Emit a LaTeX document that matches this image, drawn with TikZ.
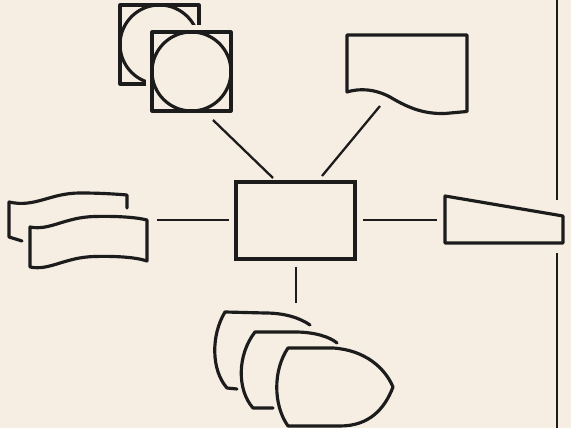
\documentclass[tikz,border=0pt]{standalone}
\definecolor{bg}{RGB}{246,237,227}
\definecolor{ink}{RGB}{28,28,28}
\begin{document}
\begin{tikzpicture}[x=0.02cm,y=-0.02cm,
  shp/.style={draw=ink, line width=1.8pt, line join=round, line cap=round},
  conn/.style={draw=ink, line width=1.3pt},
  halo/.style={fill=bg, draw=bg, line width=0.26cm}]
\fill[bg] (0,0) rectangle (571,428);
\useasboundingbox (0,0) rectangle (571,428);

% right border line
\coordinate (vt0) at (557,0);
\coordinate (vt1) at (557,200);
\coordinate (vb0) at (557,253);
\coordinate (vb1) at (557,428);
\draw[conn] (vt0) -- (vt1);
\draw[conn] (vb0) -- (vb1);

% central processing box
\node[draw=ink, line width=1.8pt, minimum width=2.38cm, minimum height=1.54cm, inner sep=0pt] (cpu) at (295.5,220.5) {};

% stacked disks (squares with circles)
\draw[shp] (120,5) rectangle (199,84);
\draw[shp] (159.5,44.5) circle [radius=39.5];
\path[halo] (152,32) rectangle (231,111);
\draw[shp] (152,32) rectangle (231,111);
\draw[shp] (191.5,71.5) circle [radius=39.5];

% document
\draw[shp] (347,92) -- (347,35) -- (467,35) -- (467,111.5)
  -- (445,113.5) .. controls (425,114) and (410,109) .. (390,97)
  .. controls (375,89) and (360,88) .. (347,92) -- cycle;

% manual input (trapezoid)
\draw[shp] (445,196) -- (563,216) -- (563,243) -- (445,243) -- cycle;

% punched tapes
\draw[shp] (22,241) -- (9,237) -- (9,202) .. controls (35,208) and (50,193) .. (80,193)
  .. controls (100,193) and (115,194) .. (127,195) -- (127,208);
\draw[shp] (30,227) .. controls (50,231) and (65,217) .. (95,216.5)
  .. controls (115,216) and (135,217) .. (147,220) -- (147,261)
  .. controls (135,257) and (115,256) .. (95,256.5)
  .. controls (65,257) and (50,271) .. (30,267) -- cycle;

% displays
\draw[shp] (310,325) .. controls (300,318) and (285,313) .. (265,313) -- (225,312)
  .. controls (211,335) and (211,370) .. (227,388) -- (237,389);
\draw[shp] (337,343) .. controls (330,337) and (315,332) .. (295,332) -- (255,332)
  .. controls (237,355) and (237,390) .. (253,408) -- (273,408);
\draw[shp] (288,348) -- (333,348) .. controls (365,350) and (385,368) .. (393,387)
  .. controls (385,408) and (370,426) .. (340,426) -- (288,426)
  .. controls (273,405) and (273,370) .. (288,348) -- cycle;

% connector end points
\coordinate (disk) at (213,120);
\coordinate (cpuUL) at (273,178);
\coordinate (doc) at (380,106);
\coordinate (cpuUR) at (322,176);
\coordinate (tape) at (157,220);
\coordinate (cpuL) at (229,220);
\coordinate (kbd) at (437,220);
\coordinate (cpuR) at (363,220);
\coordinate (cpuB) at (296,267);
\coordinate (disp) at (296,303);

\draw[conn] (disk) -- (cpuUL);
\draw[conn] (doc) -- (cpuUR);
\draw[conn] (tape) -- (cpuL);
\draw[conn] (kbd) -- (cpuR);
\draw[conn] (cpuB) -- (disp);
\end{tikzpicture}
\end{document}
